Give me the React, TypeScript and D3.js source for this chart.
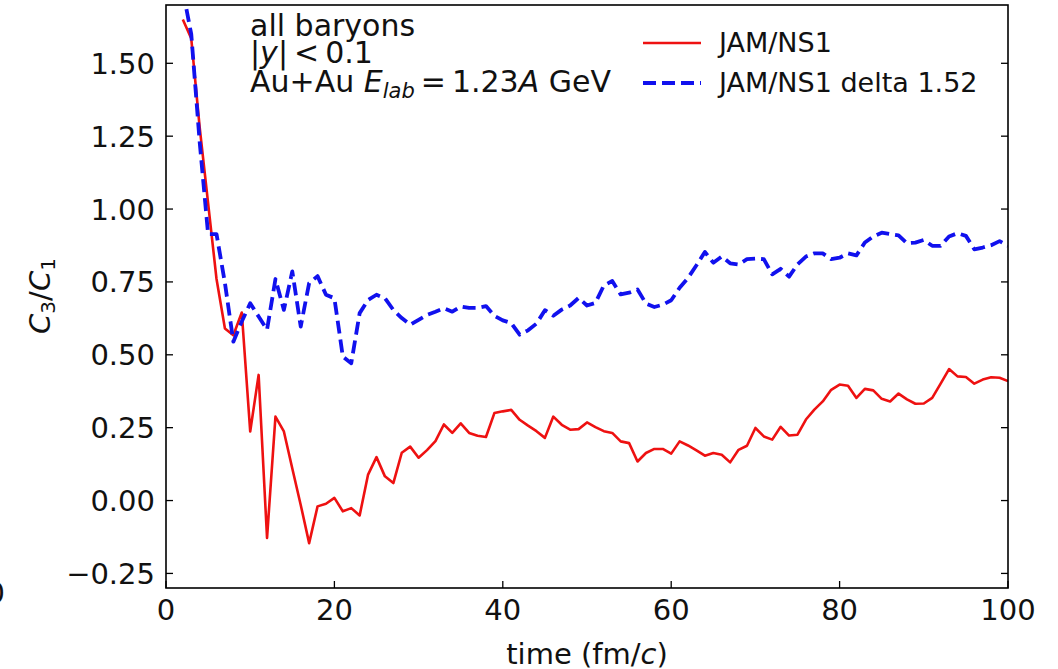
import React from "react";
import * as d3 from "d3";

// time steps (fm/c)
const times = [
  2, 3, 4, 5, 6, 7, 8, 9, 10, 11, 12, 13, 14, 15, 16, 17, 18, 19, 20, 21,
  22, 23, 24, 25, 26, 27, 28, 29, 30, 31, 32, 33, 34, 35, 36, 37, 38, 39, 40, 41,
  42, 43, 44, 45, 46, 47, 48, 49, 50, 51, 52, 53, 54, 55, 56, 57, 58, 59, 60, 61,
  62, 63, 64, 65, 66, 67, 68, 69, 70, 71, 72, 73, 74, 75, 76, 77, 78, 79, 80, 81,
  82, 83, 84, 85, 86, 87, 88, 89, 90, 91, 92, 93, 94, 95, 96, 97, 98, 99, 100,
];

// C3/C1, JAM/NS1
const jamNs1 = [
  1.65, 1.585, 1.28, 1.02, 0.76, 0.59, 0.567, 0.645, 0.237, 0.431, -0.128, 0.288, 0.237, 0.11, -0.015, -0.146, -0.02, -0.011, 0.009, -0.037,
  -0.026, -0.051, 0.089, 0.149, 0.083, 0.06, 0.164, 0.185, 0.147, 0.173, 0.204, 0.261, 0.232, 0.265, 0.232, 0.222, 0.218, 0.3, 0.306, 0.311,
  0.277, 0.257, 0.238, 0.215, 0.288, 0.26, 0.243, 0.245, 0.268, 0.252, 0.238, 0.232, 0.203, 0.197, 0.134, 0.163, 0.177, 0.177, 0.161, 0.203,
  0.189, 0.172, 0.154, 0.163, 0.157, 0.131, 0.174, 0.188, 0.249, 0.22, 0.209, 0.253, 0.223, 0.226, 0.278, 0.312, 0.34, 0.38, 0.398, 0.394,
  0.352, 0.383, 0.378, 0.349, 0.34, 0.367, 0.347, 0.332, 0.333, 0.352, 0.401, 0.451, 0.426, 0.424, 0.401, 0.415, 0.423, 0.421, 0.41,
];

// C3/C1, JAM/NS1 delta 1.52
const jamNs1Delta = [
  1.75, 1.6, 1.23, 0.914, 0.914, 0.746, 0.545, 0.614, 0.677, 0.631, 0.586, 0.76, 0.654, 0.786, 0.597, 0.746, 0.77, 0.706, 0.694, 0.494,
  0.471, 0.643, 0.688, 0.706, 0.694, 0.654, 0.626, 0.603, 0.62, 0.637, 0.648, 0.66, 0.648, 0.666, 0.661, 0.661, 0.667, 0.634, 0.618, 0.609,
  0.569, 0.584, 0.607, 0.653, 0.634, 0.655, 0.669, 0.695, 0.669, 0.678, 0.738, 0.753, 0.707, 0.713, 0.724, 0.676, 0.664, 0.672, 0.687, 0.73,
  0.764, 0.807, 0.853, 0.816, 0.837, 0.814, 0.81, 0.828, 0.83, 0.828, 0.776, 0.795, 0.768, 0.81, 0.837, 0.848, 0.848, 0.828, 0.833, 0.848,
  0.841, 0.885, 0.906, 0.919, 0.914, 0.91, 0.883, 0.885, 0.894, 0.874, 0.874, 0.906, 0.917, 0.908, 0.862, 0.868, 0.876, 0.89, 0.874,
];

const xTicks = [0, 20, 40, 60, 80, 100];
const yTicks = [-0.25, 0, 0.25, 0.5, 0.75, 1.0, 1.25, 1.5];
const seriesNames = ["JAM/NS1", "JAM/NS1 delta 1.52"];

const W = 1058;
const H = 669;
const left = 166;
const right = 1008;
const top = 5;
const bottom = 588;
const FONT = "'DejaVu Sans', sans-serif";

export default function App() {
  const x = d3.scaleLinear().domain([0, 100]).range([left, right]);
  const y = d3.scaleLinear().domain([-0.3, 1.7]).range([bottom, top]);
  const fmt = d3.format(".2f");

  const line = d3
    .line<number>()
    .x((_, i) => x(times[i]))
    .y((d) => y(d));

  const tick = 7;

  return (
    <svg
      width={W}
      height={H}
      style={{ position: "fixed", left: 0, top: 0, background: "#fff" }}
      fontFamily={FONT}
    >
      <rect x={0} y={0} width={W} height={H} fill="#fff" />
      <defs>
        <clipPath id="plotArea">
          <rect x={left} y={top} width={right - left} height={bottom - top} />
        </clipPath>
      </defs>

      <g clipPath="url(#plotArea)" fill="none" strokeLinejoin="round">
        <path d={line(jamNs1) || ""} stroke="#ee1111" strokeWidth={2.6} />
        <path
          d={line(jamNs1Delta) || ""}
          stroke="#1111ee"
          strokeWidth={3.8}
          strokeDasharray="13 6"
        />
      </g>

      {/* frame */}
      <rect
        x={left}
        y={top}
        width={right - left}
        height={bottom - top}
        fill="none"
        stroke="#000"
        strokeWidth={1.6}
      />

      {/* x ticks (inward) */}
      {xTicks.map((t) => (
        <g key={"x" + t}>
          <line x1={x(t)} x2={x(t)} y1={bottom} y2={bottom - tick} stroke="#000" strokeWidth={1.3} />
          <text x={x(t)} y={620} fontSize={29} textAnchor="middle" fill="#111">
            {t}
          </text>
        </g>
      ))}

      {/* y ticks (inward on both sides) */}
      {yTicks.map((v) => (
        <g key={"y" + v}>
          <line x1={left} x2={left + tick} y1={y(v)} y2={y(v)} stroke="#000" strokeWidth={1.3} />
          <line x1={right} x2={right - tick} y1={y(v)} y2={y(v)} stroke="#000" strokeWidth={1.3} />
          <text x={155} y={y(v) + 10.5} fontSize={29} textAnchor="end" fill="#111">
            {fmt(v)}
          </text>
        </g>
      ))}

      {/* axis labels */}
      <text x={(left + right) / 2} y={664} fontSize={29} textAnchor="middle" fill="#111">
        time (fm/<tspan fontStyle="italic">c</tspan>)
      </text>
      <text transform={`translate(50, 296) rotate(-90)`} fontSize={29} textAnchor="middle" fill="#111">
        <tspan fontStyle="italic">C</tspan>
        <tspan fontSize={20} dy={5}>3</tspan>
        <tspan dy={-5}>/</tspan>
        <tspan fontStyle="italic">C</tspan>
        <tspan fontSize={20} dy={5}>1</tspan>
      </text>

      {/* annotation */}
      <g fontSize={30} fill="#111">
        <text x={250} y={36}>all baryons</text>
        <text x={250} y={63}>
          |<tspan fontStyle="italic">y</tspan>|{"\u2009"}&lt;{"\u2009"}0.1
        </text>
        <text x={250} y={92}>
          Au+Au <tspan fontStyle="italic">E</tspan>
          <tspan fontStyle="italic" fontSize={21} dy={6}>lab</tspan>
          <tspan dy={-6}>{"\u2009"}={"\u2009"}1.23</tspan>
          <tspan fontStyle="italic">A</tspan> GeV
        </text>
      </g>

      {/* legend */}
      <g fontSize={27} fill="#111">
        <line x1={643} x2={701} y1={43} y2={43} stroke="#ee1111" strokeWidth={2.6} />
        <text x={719} y={52}>{seriesNames[0]}</text>
        <line x1={643} x2={701} y1={83} y2={83} stroke="#1111ee" strokeWidth={3.8} strokeDasharray="13 6" />
        <text x={719} y={92}>{seriesNames[1]}</text>
      </g>

      {/* partially visible glyph at the left edge */}
      <text x={5} y={603} fontSize={29} textAnchor="end" fill="#111">0</text>
    </svg>
  );
}
